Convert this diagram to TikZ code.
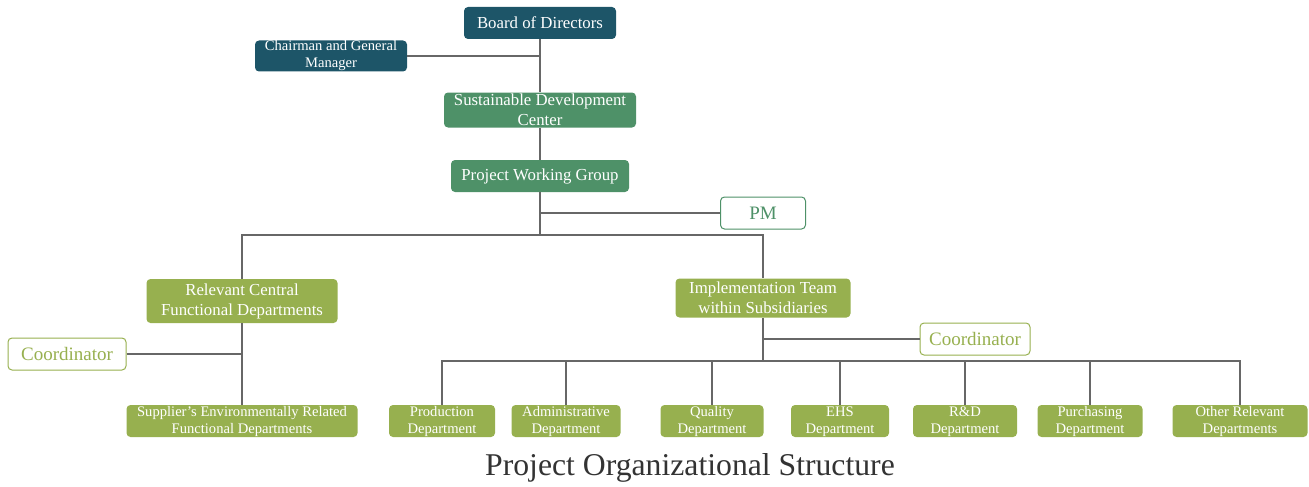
\documentclass[tikz,border=0pt]{standalone}
\usepackage{fontspec}
\setmainfont{Liberation Serif}
\definecolor{teal}{HTML}{1D5568}
\definecolor{sdgreen}{HTML}{4E9168}
\definecolor{olive}{HTML}{97B04F}
\definecolor{linegray}{HTML}{676767}
\definecolor{capgray}{HTML}{333333}
\tikzset{
	orgbox/.style = {rounded corners = 4, inner sep = 0, align = center, text = white,
		font = \fontsize{16.8}{20}\selectfont},
	topbox/.style = {orgbox, fill = teal},
	centerbox/.style = {orgbox, fill = sdgreen},
	teambox/.style = {orgbox, fill = olive},
	deptbox/.style = {teambox, font = \fontsize{14.6}{17}\selectfont, minimum height = 32},
	rolebox/.style = {rounded corners = 4, inner sep = 0, fill = white, draw = #1, line width = 1,
		text = #1, font = \fontsize{19}{22}\selectfont, minimum height = 32},
	link/.style = {linegray, line width = 1.5}
}
\begin{document}
\begin{tikzpicture} [x = 1pt, y = -1pt]
	\useasboundingbox (0,0) rectangle (1309,487);
	% top of the chart
	\node [topbox, minimum width = 152, minimum height = 32] (board) at (540,23) {Board of Directors};
	\node [topbox, minimum width = 152, minimum height = 31, font = \fontsize{14.6}{17}\selectfont] (chair) at (331,56) {Chairman and General\\Manager};
	\node [centerbox, minimum width = 192, minimum height = 35] (sdc) at (540,110) {Sustainable Development\\Center};
	\node [centerbox, minimum width = 178, minimum height = 32] (pwg) at (540,176) {Project Working Group};
	\node [rolebox = sdgreen, minimum width = 85] (pm) at (763,213) {PM};
	% the two teams
	\node [teambox, minimum width = 191, minimum height = 44] (central) at (242,301) {Relevant Central\\Functional Departments};
	\node [teambox, minimum width = 175, minimum height = 39] (impl) at (763,298) {Implementation Team\\within Subsidiaries};
	\node [rolebox = olive, minimum width = 118] (coordL) at (67,354) {Coordinator};
	\node [rolebox = olive, minimum width = 110] (coordR) at (975,339) {Coordinator};
	% departments
	\node [deptbox, minimum width = 231] (supplier) at (242,421) {Supplier's Environmentally Related\\Functional Departments};
	\node [deptbox, minimum width = 106] (prod) at (442,421) {Production\\Department};
	\node [deptbox, minimum width = 109] (admin) at (566,421) {Administrative\\Department};
	\node [deptbox, minimum width = 103] (quality) at (712,421) {Quality\\Department};
	\node [deptbox, minimum width = 98] (ehs) at (840,421) {\strut EHS\\Department};
	\node [deptbox, minimum width = 104] (rnd) at (965,421) {\strut R\&D\\Department};
	\node [deptbox, minimum width = 105] (purch) at (1090,421) {Purchasing\\Department};
	\node [deptbox, minimum width = 135] (other) at (1240,421) {Other Relevant\\Departments};
	% junctions
	\coordinate (chairjoin) at (board |- chair);
	\coordinate (pmjoin) at (pwg |- pm);
	\coordinate (split) at (540,235);
	\coordinate (coordLjoin) at (central |- coordL);
	\coordinate (coordRjoin) at (impl |- coordR);
	\coordinate (deptsplit) at (763,361);
	% connectors
	\draw [link] (board) -- (sdc);
	\draw [link] (chair) -- (chairjoin);
	\draw [link] (sdc) -- (pwg);
	\draw [link] (pwg) -- (split);
	\draw [link] (pm) -- (pmjoin);
	\draw [link] (split) -| (central);
	\draw [link] (split) -| (impl);
	\draw [link] (central) -- (supplier);
	\draw [link] (coordL) -- (coordLjoin);
	\draw [link] (impl) -- (deptsplit);
	\draw [link] (coordR) -- (coordRjoin);
	\foreach \d in {prod, admin, quality, ehs, rnd, purch, other}
		\draw [link] (deptsplit) -| (\d);
	\node [text = capgray, font = \fontsize{31.7}{36}\selectfont, anchor = base] (caption) at (690,475) {Project Organizational Structure};
\end{tikzpicture}
\end{document}
